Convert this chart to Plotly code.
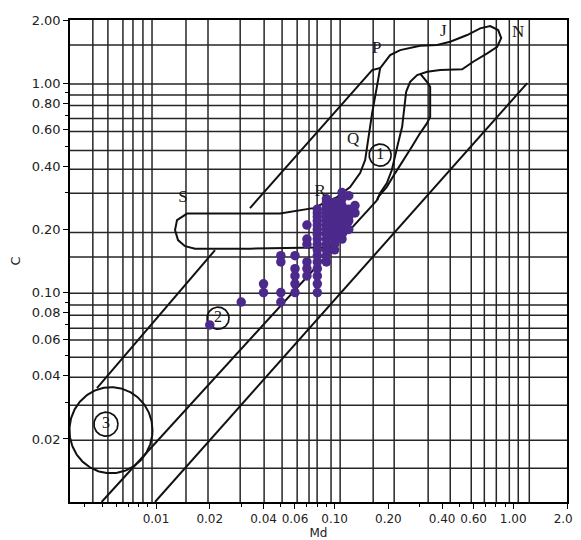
import numpy as np
import plotly.graph_objects as go

# ---------------- sample data (Md, C) ----------------
md_values = [0.02, 0.03, 0.04, 0.04,
             0.05, 0.05, 0.05, 0.05,
             0.06, 0.06, 0.06, 0.06, 0.06,
             0.07, 0.07, 0.07, 0.07, 0.07, 0.07] + \
            [0.08] * 16 + [0.09] * 15 + [0.10] * 12 + [0.11] * 9 + [0.12] * 5 + [0.13] * 2
c_values = [0.07, 0.09, 0.11, 0.10,
            0.15, 0.14, 0.10, 0.09,
            0.15, 0.13, 0.12, 0.11, 0.10,
            0.21, 0.18, 0.17, 0.14, 0.13, 0.12] + \
           [0.10, 0.11, 0.12, 0.13, 0.14, 0.15, 0.16, 0.17, 0.18, 0.19, 0.20, 0.21, 0.22, 0.23, 0.24, 0.25] + \
           [0.14, 0.15, 0.16, 0.17, 0.18, 0.19, 0.20, 0.21, 0.22, 0.23, 0.24, 0.25, 0.26, 0.27, 0.28] + \
           [0.16, 0.17, 0.18, 0.19, 0.20, 0.21, 0.22, 0.23, 0.24, 0.25, 0.26, 0.27] + \
           [0.18, 0.19, 0.20, 0.21, 0.22, 0.24, 0.26, 0.28, 0.30] + \
           [0.20, 0.22, 0.23, 0.25, 0.29] + \
           [0.24, 0.26]

# ---------------- axes ----------------
x_min, x_max = 0.0033, 2.0
y_min, y_max = 0.01, 2.0
x_tick_vals = [0.01, 0.02, 0.04, 0.06, 0.1, 0.2, 0.4, 0.6, 1.0, 2.0]
x_tick_text = ["0.01", "0.02", "0.04", "0.06", "0.10", "0.20", "0.40", "0.60", "1.00", "2.00"]
x_minor_vals = [0.004, 0.005, 0.006, 0.007, 0.008, 0.009, 0.03, 0.05, 0.07, 0.08, 0.09,
                0.3, 0.5, 0.7, 0.8, 0.9]
y_tick_vals = [0.02, 0.04, 0.06, 0.08, 0.1, 0.2, 0.4, 0.6, 0.8, 1.0, 2.0]
y_tick_text = ["0.02", "0.04", "0.06", "0.08", "0.10", "0.20", "0.40", "0.60", "0.80", "1.00", "2.00"]
y_minor_vals = [0.03, 0.05, 0.07, 0.09, 0.3, 0.5, 0.7, 0.9]

# ---------------- background CM-diagram (Passega) ----------------
grid_md = [0.00443, 0.00538, 0.00653, 0.00743, 0.00845, 0.00950, 0.01472, 0.01955,
           0.0296, 0.0403, 0.0508, 0.0617, 0.0719, 0.0798, 0.0955, 0.1074, 0.1644,
           0.2155, 0.334, 0.444, 0.582, 0.689, 0.804, 0.951, 1.067, 1.230]
grid_c = [1.519, 0.989, 0.876, 0.781, 0.677, 0.587, 0.476, 0.388, 0.298, 0.1932,
          0.1476, 0.0993, 0.0871, 0.0780, 0.0676, 0.0593, 0.0491, 0.0394, 0.0290,
          0.0197, 0.0145]

line_a_md = [0.00467, 0.0214, None, 0.0336, 0.1622, 0.1799]
line_a_c = [0.0350, 0.1594, None, 0.2530, 1.1535, 1.179]
line_b_md = [0.00496, 0.1730]
line_b_c = [0.0100, 0.2763]
line_c_md = [0.00987, 1.198]
line_c_c = [0.0100, 1.000]

envelope_md = [0.0994, 0.0729, 0.03362, 0.01654, 0.01454, 0.01328, 0.01278, 0.01311, 0.01492,
               0.0495, 0.0758, 0.1033, 0.1221, 0.1389, 0.1482, 0.1540, 0.1622, 0.1723, 0.1799,
               0.2046, 0.2328, 0.3012, 0.3751, 0.4436, 0.5522, 0.6531, 0.7431, 0.8238, 0.8564,
               0.8133, 0.7150, 0.5968, 0.5180, 0.3899, 0.3297, 0.2898, 0.2648, 0.2515, 0.2451,
               0.2388, 0.2268, 0.2182, 0.2091, 0.1961, 0.1799, 0.1730]
envelope_c = [0.1647, 0.1638, 0.1620, 0.1620, 0.1665, 0.1779, 0.1986, 0.2217, 0.2381,
              0.2386, 0.2529, 0.2854, 0.3186, 0.3717, 0.4288, 0.5342, 0.7190, 0.957, 1.179,
              1.360, 1.437, 1.507, 1.519, 1.575, 1.695, 1.825, 1.872, 1.791, 1.640,
              1.491, 1.386, 1.264, 1.163, 1.154, 1.132, 1.092, 1.014, 0.9088, 0.7705,
              0.6184, 0.5169, 0.4446, 0.3842, 0.3330, 0.2983, 0.2763]
lobe_md = [0.3012, 0.3340, 0.3427, 0.3427, 0.3285, 0.3012, 0.2706, 0.2419, 0.2182, 0.1961, 0.1752, 0.1730]
lobe_c = [1.110, 0.997, 0.957, 0.6903, 0.6419, 0.5771, 0.4963, 0.4288, 0.3717, 0.3197, 0.2854, 0.2763]

label_text = ["S", "P", "J", "N", "Q", "R"]
label_md = [0.01417, 0.1723, 0.4054, 1.066, 0.1269, 0.0829]
label_c = [0.2824, 1.465, 1.758, 1.733, 0.5342, 0.3025]

zone_text = ["1", "2", "3"]
zone_md = [0.1799, 0.02225, 0.005246]
zone_c = [0.4530, 0.07542, 0.02352]
zone_r_px = [11, 11, 12]
pelagic_md, pelagic_c = 0.005596, 0.02201
pelagic_rx_px, pelagic_ry_px = 41.5, 43

# ---------------- layout geometry (page body adds an 8px offset) ----------------
W, H = 573, 532
ML, MR, MT, MB = 62, 14, 12, 38
plot_w, plot_h = W - ML - MR, H - MT - MB
xr = [np.log10(x_min), np.log10(x_max) + 1e-5]
yr = [np.log10(y_min), np.log10(y_max) + 1e-5]
dec_per_px_x = (xr[1] - xr[0]) / plot_w
dec_per_px_y = (yr[1] - yr[0]) / plot_h


def ring(cx, cy, rx_px, ry_px, n=120):
    t = np.linspace(0, 2 * np.pi, n)
    xs = 10 ** (np.log10(cx) + rx_px * dec_per_px_x * np.cos(t))
    ys = 10 ** (np.log10(cy) + ry_px * dec_per_px_y * np.sin(t))
    return list(xs), list(ys)


fig = go.Figure()

# grid
gx, gy = [], []
for g in grid_md:
    gx += [g, g, None]
    gy += [y_min, y_max, None]
for g in grid_c:
    gx += [x_min, x_max, None]
    gy += [g, g, None]
fig.add_trace(go.Scatter(x=gx, y=gy, mode="lines", line=dict(color="#262626", width=1.5),
                         hoverinfo="skip", showlegend=False))

line_style = dict(color="#111111", width=2)
for xs, ys in [(line_a_md, line_a_c), (line_b_md, line_b_c), (line_c_md, line_c_c),
               (envelope_md, envelope_c), (lobe_md, lobe_c)]:
    fig.add_trace(go.Scatter(x=xs, y=ys, mode="lines", line=line_style,
                             hoverinfo="skip", showlegend=False))

# circles
px_, py_ = ring(pelagic_md, pelagic_c, pelagic_rx_px, pelagic_ry_px, 200)
fig.add_trace(go.Scatter(x=px_, y=py_, mode="lines", line=line_style, hoverinfo="skip", showlegend=False))
for cx, cy, r in zip(zone_md, zone_c, zone_r_px):
    xs, ys = ring(cx, cy, r, r)
    fig.add_trace(go.Scatter(x=xs, y=ys, mode="lines", line=dict(color="#111111", width=1.7),
                             hoverinfo="skip", showlegend=False))

# sample points
fig.add_trace(go.Scatter(x=md_values, y=c_values, mode="markers",
                         marker=dict(color="#4b2a8c", size=9.5, line=dict(width=0)),
                         showlegend=False))

# labels
fig.add_trace(go.Scatter(x=label_md, y=label_c, mode="text", text=label_text,
                         textfont=dict(family="Liberation Serif", size=17, color="#1a1a1a"),
                         hoverinfo="skip", showlegend=False))
fig.add_trace(go.Scatter(x=zone_md, y=zone_c, mode="text", text=zone_text,
                         textfont=dict(family="Liberation Serif", size=16, color="#1a1a1a"),
                         hoverinfo="skip", showlegend=False))

axis_common = dict(type="log", showgrid=False, zeroline=False, showline=True, mirror=True,
                   linecolor="black", linewidth=1.5, ticks="outside", ticklen=5, tickwidth=1.2,
                   tickcolor="black", tickangle=0, ticklabeloverflow="allow")

fig.update_layout(
    width=W, height=H,
    margin=dict(l=ML, r=MR, t=MT, b=MB, autoexpand=False),
    paper_bgcolor="white", plot_bgcolor="white",
    xaxis=dict(range=xr, tickmode="array", tickvals=x_tick_vals, ticktext=x_tick_text,
               tickfont=dict(family="DejaVu Sans", size=12, color="#222222"),
               minor=dict(tickmode="array", tickvals=x_minor_vals, ticks="outside", ticklen=3,
                          tickwidth=1, tickcolor="black", showgrid=False),
               title=dict(text="Md", font=dict(family="DejaVu Sans", size=12, color="#222222"),
                          standoff=0),
               automargin=False, **axis_common),
    yaxis=dict(range=yr, tickmode="array", tickvals=y_tick_vals, ticktext=y_tick_text,
               tickfont=dict(family="DejaVu Sans", size=13, color="#222222"),
               minor=dict(tickmode="array", tickvals=y_minor_vals, ticks="outside", ticklen=3,
                          tickwidth=1, tickcolor="black", showgrid=False),
               title=dict(text="C", font=dict(family="DejaVu Sans", size=13, color="#222222"),
                          standoff=12),
               automargin=False, **axis_common),
)

fig.write_html("out.html")
